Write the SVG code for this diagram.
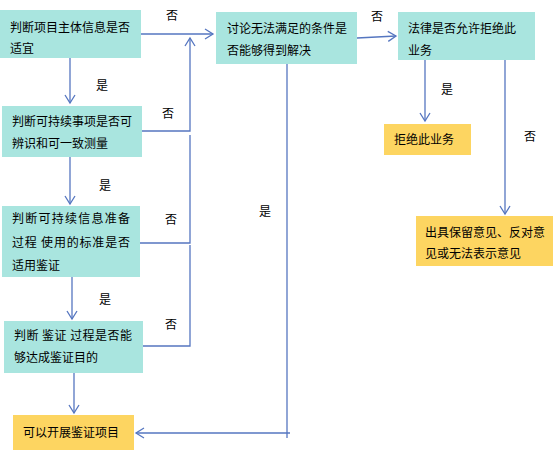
<svg xmlns="http://www.w3.org/2000/svg" width="553" height="450" viewBox="0 0 553 450">
<style>
.t{fill:#A9E5DF}
.y{fill:#FDD561}
text{font-family:"Noto Sans CJK SC","Liberation Sans",sans-serif;font-size:12px;fill:#000}
.c{fill:none;stroke:#5576C0;stroke-width:1.3}
</style>
<defs>
<marker id="a" markerWidth="12" markerHeight="12" refX="10" refY="6" orient="auto" markerUnits="userSpaceOnUse">
<polyline points="2,1 10,6 2,11" fill="none" stroke="#5576C0" stroke-width="1.3"/>
</marker>
</defs>
<rect width="553" height="450" fill="#fff"/>
<g id="n1"><rect class="t" x="0" y="10" width="141" height="48"/><text x="10" y="32">判断项目主体信息是否</text><text x="10" y="53">适宜</text></g>
<g id="n2"><rect class="t" x="2" y="106" width="140" height="51"/><text x="12" y="126">判断可持续事项是否可</text><text x="12" y="148">辨识和可一致测量</text></g>
<g id="n3"><rect class="t" x="2" y="206" width="138" height="71"/><text x="12" y="223" textLength="118">判断可持续信息准备</text><text x="12" y="247" textLength="118">过程 使用的标准是否</text><text x="12" y="270">适用鉴证</text></g>
<g id="n4"><rect class="t" x="4" y="321" width="139" height="52"/><text x="14" y="340" textLength="118">判断 鉴证 过程是否能</text><text x="14" y="362">够达成鉴证目的</text></g>
<g id="n5"><rect class="y" x="13" y="415" width="121" height="35"/><text x="23" y="437">可以开展鉴证项目</text></g>
<g id="n6"><rect class="t" x="216" y="12" width="141" height="52"/><text x="227" y="33">讨论无法满足的条件是</text><text x="227" y="55">否能够得到解决</text></g>
<g id="n7"><rect class="t" x="398" y="12" width="137" height="48"/><text x="408" y="33">法律是否允许拒绝此</text><text x="408" y="55">业务</text></g>
<g id="n8"><rect class="y" x="384" y="124" width="87" height="31"/><text x="394" y="144">拒绝此业务</text></g>
<g id="n9"><rect class="y" x="416" y="216" width="137" height="50"/><text x="425" y="237">出具保留意见、反对意</text><text x="425" y="258">见或无法表示意见</text></g>
<g id="edges">
<path class="c" d="M141,34 H213" marker-end="url(#a)"/>
<path class="c" d="M70,58 V103" marker-end="url(#a)"/>
<path class="c" d="M142,131 H190 V38" marker-end="url(#a)"/>
<path class="c" d="M140,243 H190 V135"/>
<path class="c" d="M143,346 H190 V245"/>
<path class="c" d="M70,157 V204" marker-end="url(#a)"/>
<path class="c" d="M72,277 V319" marker-end="url(#a)"/>
<path class="c" d="M74,373 V413" marker-end="url(#a)"/>
<path class="c" d="M287,64 V438"/>
<path class="c" d="M290,433 H136" marker-end="url(#a)"/>
<path class="c" d="M357,38 L396,36" marker-end="url(#a)"/>
<path class="c" d="M425,60 V121" marker-end="url(#a)"/>
<path class="c" d="M505,60 V214" marker-end="url(#a)"/>
</g>
<g id="labels">
<text x="166" y="20">否</text>
<text x="96" y="90">是</text>
<text x="162" y="118">否</text>
<text x="99" y="190">是</text>
<text x="165" y="224">否</text>
<text x="99" y="304">是</text>
<text x="165" y="329">否</text>
<text x="259" y="216">是</text>
<text x="371" y="21">否</text>
<text x="441" y="94">是</text>
<text x="524" y="141">否</text>
</g>
</svg>
